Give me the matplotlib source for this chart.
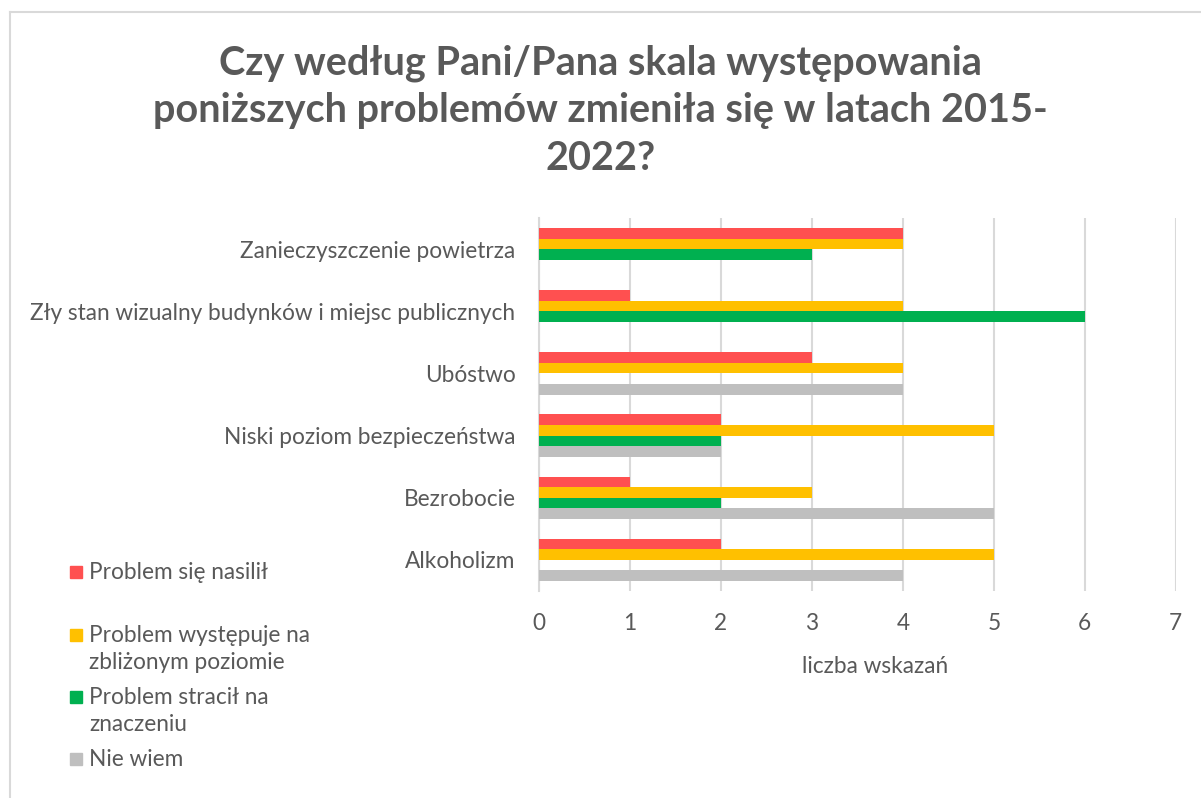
import numpy as np
import matplotlib.pyplot as plt
from matplotlib.patches import Rectangle
from matplotlib.lines import Line2D

plt.rcParams['font.family'] = ['Lato', 'DejaVu Sans']

# data
categories = ['Zanieczyszczenie powietrza',
              'Zły stan wizualny budynków i miejsc publicznych',
              'Ubóstwo',
              'Niski poziom bezpieczeństwa',
              'Bezrobocie',
              'Alkoholizm']
nasilil = [4, 1, 3, 2, 1, 2]
zblizony = [4, 4, 4, 5, 3, 5]
stracil = [3, 6, 0, 2, 2, 0]
nie_wiem = [0, 0, 4, 2, 5, 4]

series_names = ['Problem się nasilił',
                'Problem występuje na\nzbliżonym poziomie',
                'Problem stracił na\nznaczeniu',
                'Nie wiem']
series_values = [nasilil, zblizony, stracil, nie_wiem]
colors = ['#FF5050', '#FFC000', '#00B050', '#BFBFBF']

txt = '#595959'

fig = plt.figure(figsize=(12.01, 7.98), dpi=100)
ax = fig.add_axes([0.4488, 0.2594, 0.5302, 0.4674])

y = np.arange(len(categories))
bh = 0.17
for i, (vals, c) in enumerate(zip(series_values, colors)):
    offs = (i - 1.5) * bh
    ax.barh(y + offs, vals, height=bh, color=c, edgecolor='none', zorder=3)

ax.set_ylim(len(categories) - 0.5, -0.5)
ax.set_xlim(0, 7)
ax.set_xticks(range(8))
ax.set_yticks(y)
ax.set_yticklabels(categories)
ax.tick_params(axis='both', length=0, labelsize=16.3, colors=txt)
ax.tick_params(axis='x', pad=16)
ax.tick_params(axis='y', pad=17)
ax.grid(axis='x', color='#D9D9D9', linewidth=1.5, zorder=0)
for s in ['top', 'right', 'bottom']:
    ax.spines[s].set_visible(False)
ax.spines['left'].set_color('#D9D9D9')
ax.spines['left'].set_linewidth(1.5)
ax.set_xlabel('liczba wskazań', fontsize=16.3, color=txt, labelpad=16)
ax.xaxis.label.set_x(0.527)

fig.text(0.5, 1 - 44 / 798, 'Czy według Pani/Pana skala występowania\n'
         'poniższych problemów zmieniła się w latach 2015-\n2022?',
         ha='center', va='top', fontsize=28.5, fontweight='bold',
         color=txt, linespacing=1.36)

# legend placed by hand, like the Excel one
leg_y = [572, 635, 697, 759]
for name, c, ly in zip(series_names, colors, leg_y):
    fy = 1 - ly / 798
    fig.patches.append(Rectangle((70 / 1201, fy - 6 / 798), 12 / 1201, 12 / 798,
                                 transform=fig.transFigure, color=c))
    fig.text(89 / 1201, fy + 10 / 798, name, ha='left', va='top',
             fontsize=16.3, color=txt, linespacing=1.34)

# chart area border (top and left visible)
fig.add_artist(Line2D([10 / 1201, 1], [1 - 12 / 798, 1 - 12 / 798],
                      transform=fig.transFigure, color='#D9D9D9', lw=1.5))
fig.add_artist(Line2D([10 / 1201, 10 / 1201], [0, 1 - 12 / 798],
                      transform=fig.transFigure, color='#D9D9D9', lw=1.5))

fig.savefig('out.png', dpi=100)
